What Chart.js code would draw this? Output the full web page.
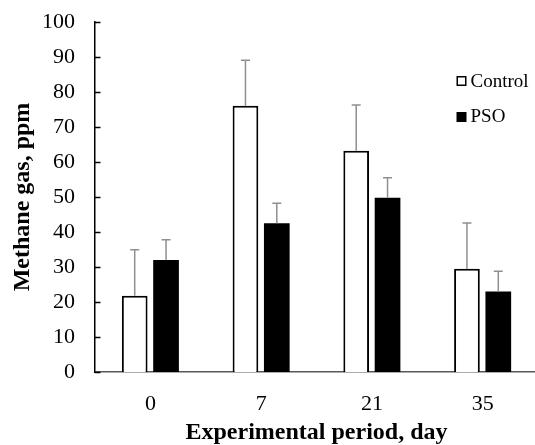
<!DOCTYPE html>
<html><head><meta charset="utf-8">
<script src="https://cdn.jsdelivr.net/npm/chart.js@4/dist/chart.umd.min.js"></script>
<style>
html,body{margin:0;padding:0;background:#fff;overflow:hidden;}
#wrap{width:535px;height:445px;overflow:hidden;position:relative;}
canvas{display:block;}
</style>
</head><body>
<div id="wrap"><canvas id="c" width="540" height="445"></canvas></div>
<script>
const categories = ['0', '7', '21', '35'];
const seriesNames = ['Control', 'PSO'];
const controlValues = [21.8, 76.1, 63.2, 29.5];
const psoValues = [32.0, 42.5, 49.8, 23.0];
const controlErrors = [13.1, 13.0, 13.1, 13.1];
const psoErrors = [5.8, 5.7, 5.7, 5.8];
const yMin = 0, yMax = 100, yStep = 10;
const xTitle = 'Experimental period, day';
const yTitle = 'Methane gas, ppm';

const FONT = "'Times New Roman', 'Liberation Serif', serif";

const errorBarPlugin = {
  id: 'errorBars',
  afterDatasetsDraw(chart) {
    const ctx = chart.ctx;
    const yScale = chart.scales.y;
    chart.data.datasets.forEach((ds, i) => {
      const meta = chart.getDatasetMeta(i);
      meta.data.forEach((bar, j) => {
        const v = ds.data[j];
        const e = ds.errors[j];
        const yTop = yScale.getPixelForValue(v + e);
        const yBar = yScale.getPixelForValue(v);
        ctx.save();
        ctx.strokeStyle = '#8f8f8f';
        ctx.lineWidth = 1.5;
        ctx.beginPath();
        ctx.moveTo(bar.x, yBar);
        ctx.lineTo(bar.x, yTop);
        ctx.moveTo(bar.x - 4.5, yTop);
        ctx.lineTo(bar.x + 4.5, yTop);
        ctx.stroke();
        ctx.restore();
      });
    });
  }
};

const innerTicksPlugin = {
  id: 'innerTicks',
  afterDraw(chart) {
    const ctx = chart.ctx;
    const y = chart.scales.y;
    const left = chart.chartArea.left;
    ctx.save();
    ctx.strokeStyle = '#000';
    ctx.lineWidth = 1.5;
    y.ticks.forEach(t => {
      const py = Math.round(y.getPixelForValue(t.value)) + 0.5;
      ctx.beginPath();
      ctx.moveTo(left, py);
      ctx.lineTo(left + 5.5, py);
      ctx.stroke();
    });
    ctx.restore();
  }
};

const legendPlugin = {
  id: 'customLegend',
  afterDraw(chart) {
    const ctx = chart.ctx;
    const x0 = 456.5;
    const rows = [87, 122];
    ctx.save();
    ctx.font = '19px ' + FONT;
    ctx.textBaseline = 'alphabetic';
    ctx.textAlign = 'left';
    chart.data.datasets.forEach((ds, i) => {
      const base = rows[i];
      if (ds.backgroundColor === '#ffffff') {
        ctx.fillStyle = '#fff';
        ctx.fillRect(x0, base - 10.5, 9.5, 9.5);
        ctx.strokeStyle = '#000';
        ctx.lineWidth = 1.5;
        ctx.strokeRect(x0 + 0.75, base - 10.25, 8.5, 8.5);
      } else {
        ctx.fillStyle = '#000';
        ctx.fillRect(x0, base - 10, 10, 10);
      }
      ctx.fillStyle = '#000';
      ctx.fillText(ds.label, x0 + 14, base);
    });
    ctx.restore();
  }
};

new Chart(document.getElementById('c'), {
  type: 'bar',
  data: {
    labels: categories,
    datasets: [
      { label: seriesNames[0], data: controlValues, errors: controlErrors,
        backgroundColor: '#ffffff', borderColor: '#000000', borderWidth: 2,
        borderSkipped: 'start', barPercentage: 0.82, categoryPercentage: 0.566 },
      { label: seriesNames[1], data: psoValues, errors: psoErrors,
        backgroundColor: '#000000', borderColor: '#000000', borderWidth: 0,
        barPercentage: 0.82, categoryPercentage: 0.566 }
    ]
  },
  options: {
    responsive: false,
    animation: false,
    layout: { padding: { top: 22, right: 2, bottom: 0, left: 0 } },
    plugins: {
      legend: { display: false },
      tooltip: { enabled: false },
      title: { display: false }
    },
    scales: {
      x: {
        grid: { display: false, drawTicks: false, tickLength: 0 },
        border: { display: true, color: '#595959', width: 1.5 },
        ticks: { color: '#000', padding: 19, font: { family: FONT, size: 22 } },
        title: {
          display: true, text: xTitle, color: '#000',
          font: { family: FONT, size: 24, weight: 'bold', lineHeight: 1.0 },
          padding: { top: 0, bottom: 0 }
        },
        afterFit(s) { s.height = 73; s.paddingLeft = 0; s.paddingRight = 0; }
      },
      y: {
        min: yMin, max: yMax,
        grid: { display: false, drawTicks: false, tickLength: 0 },
        border: { display: true, color: '#000', width: 1.5 },
        ticks: { stepSize: yStep, color: '#000', padding: 20, font: { family: FONT, size: 22 } },
        title: {
          display: true, text: yTitle, color: '#000',
          font: { family: FONT, size: 24, weight: 'bold', lineHeight: 1.0 },
          padding: { top: 11, bottom: 0 }
        },
        afterFit(s) { s.width = 95; s.paddingTop = 0; s.paddingBottom = 0; }
      }
    }
  },
  plugins: [errorBarPlugin, innerTicksPlugin, legendPlugin]
});
</script>
</body></html>
